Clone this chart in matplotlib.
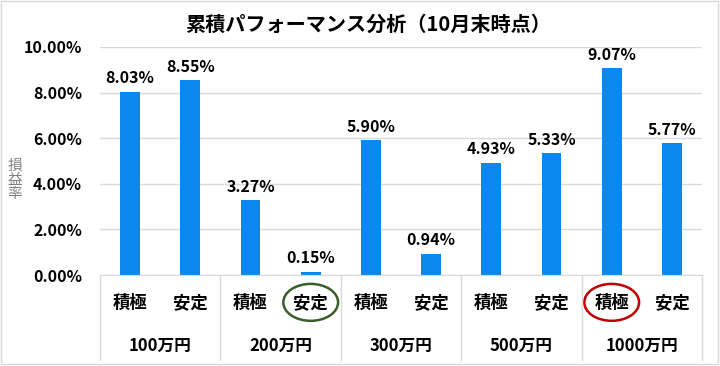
import matplotlib
matplotlib.use("Agg")
import matplotlib.pyplot as plt
from matplotlib.patches import Ellipse, Rectangle
from matplotlib.ticker import FuncFormatter

plt.rcParams['font.family'] = ['Noto Sans CJK JP', 'DejaVu Sans']

title = "累積パフォーマンス分析（10月末時点）"
groups = ["100万円", "200万円", "300万円", "500万円", "1000万円"]
types = ["積極", "安定"]
values = [8.03, 8.55, 3.27, 0.15, 5.90, 0.94, 4.93, 5.33, 9.07, 5.77]
yticks = [0, 2, 4, 6, 8, 10]
# circled labels: (bar index, color)
circled = [(3, "#3B5E2B"), (8, "#C00000")]

BAR_COLOR = "#0A88EE"
GRID = "#D9D9D9"

fig = plt.figure(figsize=(7.2, 3.66), dpi=100)
ax = fig.add_axes([100 / 720, 1 - 275 / 366, 602 / 720, 228 / 366])

x = [i + 0.5 for i in range(len(values))]
ax.bar(x, values, width=0.33, color=BAR_COLOR, zorder=2)
for xi, v in zip(x, values):
    ax.annotate(f"{v:.2f}%", (xi, v), xytext=(0, 4), textcoords="offset points",
                ha="center", va="bottom", fontsize=11.5, fontweight="bold")

ax.set_xlim(0, len(values))
ax.set_ylim(0, 10)
ax.set_yticks(yticks)
ax.yaxis.set_major_formatter(FuncFormatter(lambda v, p: f"{v:.2f}%"))
ax.grid(axis="y", color=GRID, linewidth=1, zorder=0)
ax.tick_params(axis="y", length=0, pad=13, labelsize=11.5)
for lab in ax.get_yticklabels():
    lab.set_fontweight("bold")
ax.set_xticks([])
for s in ["top", "right", "left"]:
    ax.spines[s].set_visible(False)
ax.spines["bottom"].set_color(GRID)

# two-level category table under the axis
tr = ax.get_xaxis_transform()
for xi, i in zip(x, range(len(values))):
    ax.text(xi, -0.123, types[i % 2], transform=tr, ha="center", va="center",
            fontsize=12.5, fontweight="bold")
for g, name in enumerate(groups):
    ax.text(2 * g + 1, -0.311, name, transform=tr, ha="center", va="center",
            fontsize=12, fontweight="bold")
for b in range(0, len(values) + 1, 2):
    ax.plot([b, b], [0, -0.373], transform=tr, color=GRID, linewidth=1, clip_on=False)

for idx, col in circled:
    ax.add_patch(Ellipse((idx + 0.5, -0.12), 0.91, 0.162, transform=tr, fill=False,
                         edgecolor=col, linewidth=1.8, clip_on=False))

fig.text(368 / 720, 1 - 24 / 366, title, ha="center", va="center",
         fontsize=14.5, fontweight="bold")
fig.text(15 / 720, 1 - 180 / 366, "損\n益\n率", ha="center", va="center",
         fontsize=10.5, color="#808080", linespacing=1.0)

fig.patches.append(Rectangle((1 / 720, 2 / 366), 717 / 720, 363 / 366,
                             transform=fig.transFigure, fill=False,
                             edgecolor=GRID, linewidth=1))

fig.savefig("out.png", dpi=100)
